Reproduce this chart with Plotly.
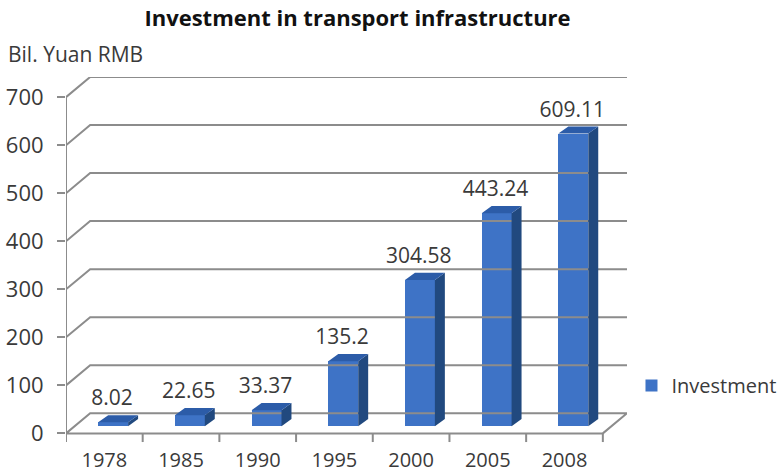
import plotly.graph_objects as go

# Transport infrastructure investment, billions of yuan RMB
years = ["1978", "1985", "1990", "1995", "2000", "2005", "2008"]
investment = [8.02, 22.65, 33.37, 135.2, 304.58, 443.24, 609.11]
y_ticks = [0, 100, 200, 300, 400, 500, 600, 700]

FONT = "Open Sans"
TEXT = "#3a3a3a"
GRID = "#8c8c8c"
FRONT = "#3e73c6"
SIDE = "#21497f"
TOP = "#2c5ca8"

# pseudo-3D geometry in data units
n = len(years)
x0, x1 = -0.5, n - 0.5          # front floor edge
DX, DY = 0.315, 42               # wall depth
B_OFF, B_W = -0.08, 0.39         # bar front face offset / width
BDX, BDY = 0.13, 15              # bar depth
BASE = 15                        # bar sits mid-floor
cats = list(range(n))

fig = go.Figure()

# back-wall gridlines with their left-wall diagonals
gx, gy = [], []
for v in y_ticks[1:]:
    gx += [x0, x0 + DX, x1 + DX, None]
    gy += [v, v + DY, v + DY, None]
fig.add_trace(go.Scatter(x=gx, y=gy, mode="lines", line=dict(color=GRID, width=2),
                         hoverinfo="skip", showlegend=False))

# floor outline
fig.add_trace(go.Scatter(x=[x0, x0 + DX, x1 + DX, x1, x0],
                         y=[0, DY, DY, 0, 0], mode="lines",
                         line=dict(color=GRID, width=2), hoverinfo="skip", showlegend=False))

# front value axis and category boundary ticks
tx, ty = [x0, x0, None], [0, y_ticks[-1], None]
for k in range(n + 1):
    tx += [x0 + k, x0 + k, None]
    ty += [0, -18, None]
fig.add_trace(go.Scatter(x=tx, y=ty, mode="lines", line=dict(color=GRID, width=2),
                         hoverinfo="skip", showlegend=False, cliponaxis=False))

# bar front faces
fig.add_trace(go.Bar(x=cats, y=investment, base=BASE, width=B_W, offset=B_OFF,
                     marker=dict(color=FRONT, line=dict(width=0)), name="Investment",
                     showlegend=True))

# bar side and top faces
sx, sy, px_, py_ = [], [], [], []
for c, v in zip(cats, investment):
    r = c + B_OFF + B_W
    l = c + B_OFF
    top = BASE + v
    sx += [r, r + BDX, r + BDX, r, r, None]
    sy += [BASE, BASE + BDY, top + BDY, top, BASE, None]
    px_ += [l, r, r + BDX, l + BDX, l, None]
    py_ += [top, top, top + BDY, top + BDY, top, None]
fig.add_trace(go.Scatter(x=sx, y=sy, mode="lines", fill="toself", fillcolor=SIDE,
                         line=dict(width=0, color=SIDE), hoverinfo="skip", showlegend=False))
fig.add_trace(go.Scatter(x=px_, y=py_, mode="lines", fill="toself", fillcolor=TOP,
                         line=dict(width=0, color=TOP), hoverinfo="skip", showlegend=False))

# value labels
fig.add_trace(go.Scatter(x=[c + 0.1 for c in cats], y=[BASE + v + 46 for v in investment],
                         mode="text", text=[f"{v:g}" for v in investment],
                         textposition="middle center",
                         textfont=dict(family=FONT, size=21, color=TEXT),
                         hoverinfo="skip", showlegend=False, cliponaxis=False))

fig.update_layout(
    width=784, height=476,
    margin=dict(l=66, r=157, t=77, b=33, autoexpand=False),
    paper_bgcolor="white", plot_bgcolor="white",
    font=dict(family=FONT, color=TEXT),
    title=dict(text="<b>Investment in transport infrastructure</b>",
               x=0.456, xanchor="center", y=0.962, yanchor="middle",
               font=dict(family=FONT, size=22, color="#111111")),
    xaxis=dict(range=[x0, x1 + DX], tickmode="array", tickvals=cats, ticktext=years,
               ticks="", showgrid=False, zeroline=False, showline=False, automargin=False,
               tickfont=dict(family=FONT, size=20, color=TEXT), ticklabelstandoff=3),
    yaxis=dict(range=[-20, 742], tickmode="array", tickvals=y_ticks,
               ticks="outside", ticklen=8, tickwidth=2, tickcolor=GRID,
               showgrid=False, zeroline=False, showline=False, automargin=False,
               tickfont=dict(family=FONT, size=22, color=TEXT), ticklabelstandoff=9),
    legend=dict(x=1.008, y=0.157, xanchor="left", yanchor="middle",
                font=dict(family=FONT, size=20, color=TEXT),
                itemwidth=30, bgcolor="rgba(0,0,0,0)"),
    annotations=[dict(text="Bil. Yuan RMB", xref="paper", yref="paper",
                      x=-0.107, y=1.062, xanchor="left", yanchor="middle",
                      showarrow=False, font=dict(family=FONT, size=21, color=TEXT))],
    bargap=0,
)

fig.write_html("out.html")
